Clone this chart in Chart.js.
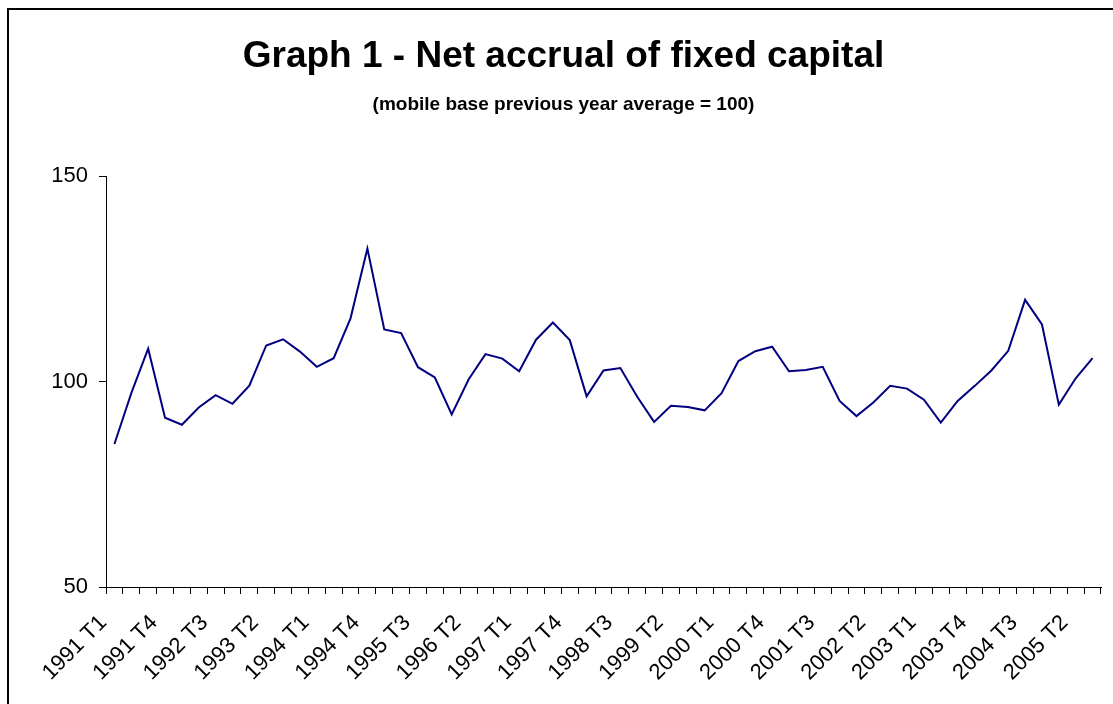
<!DOCTYPE html>
<html>
<head>
<meta charset="utf-8">
<script src="https://cdn.jsdelivr.net/npm/chart.js@4"></script>
<style>
    body { margin: 0; background: #fff; }
    #wrap { position: relative; width: 1113px; height: 704px; overflow: hidden; }
    #frame {
        position: absolute; left: 7px; top: 8px; width: 1120px; height: 720px;
        border-top: 2px solid #000; border-left: 2px solid #000;
    }
    canvas { position: absolute; left: 0; top: 0; }
</style>
</head>
<body>
<div id="wrap">
    <div id="frame"></div>
    <canvas id="capitalChart" width="1113" height="704"></canvas>
</div>
<script>
// Trimestres 1991 T1 .. 2005 T3
var quarters = [
    "1991 T1", "1991 T2", "1991 T3", "1991 T4",
    "1992 T1", "1992 T2", "1992 T3", "1992 T4",
    "1993 T1", "1993 T2", "1993 T3", "1993 T4",
    "1994 T1", "1994 T2", "1994 T3", "1994 T4",
    "1995 T1", "1995 T2", "1995 T3", "1995 T4",
    "1996 T1", "1996 T2", "1996 T3", "1996 T4",
    "1997 T1", "1997 T2", "1997 T3", "1997 T4",
    "1998 T1", "1998 T2", "1998 T3", "1998 T4",
    "1999 T1", "1999 T2", "1999 T3", "1999 T4",
    "2000 T1", "2000 T2", "2000 T3", "2000 T4",
    "2001 T1", "2001 T2", "2001 T3", "2001 T4",
    "2002 T1", "2002 T2", "2002 T3", "2002 T4",
    "2003 T1", "2003 T2", "2003 T3", "2003 T4",
    "2004 T1", "2004 T2", "2004 T3", "2004 T4",
    "2005 T1", "2005 T2", "2005 T3"
];

// Net accrual of fixed capital (previous year average = 100)
var accrual = [
    84.8, 97.2, 108.0, 91.2, 89.5, 93.7, 96.7, 94.6, 99.0, 108.8,
    110.3, 107.3, 103.6, 105.7, 115.4, 132.4, 112.7, 111.8, 103.5, 101.0,
    92.0, 100.5, 106.7, 105.6, 102.5, 110.2, 114.4, 110.1, 96.4, 102.7,
    103.3, 96.3, 90.2, 94.1, 93.8, 93.0, 97.2, 105.0, 107.4, 108.5,
    102.5, 102.8, 103.6, 95.3, 91.6, 94.9, 99.0, 98.3, 95.6, 90.0,
    95.3, 98.9, 102.7, 107.5, 119.9, 113.9, 94.4, 100.8, 105.7
];

var yTicks = [50, 100, 150];

var ctx = document.getElementById("capitalChart").getContext("2d");
new Chart(ctx, {
    type: "line",
    data: {
        labels: quarters,
        datasets: [
            {
                label: "Net accrual",
                data: accrual,
                borderColor: "#000080",
                borderWidth: 2,
                pointRadius: 0,
                fill: false,
                tension: 0,
            },
        ],
    },
    options: {
        responsive: false,
        animation: false,
        layout: { padding: { left: 26, right: 12, top: 0, bottom: 0 } },
        plugins: {
            legend: { display: false },
            tooltip: { enabled: false },
            title: {
                display: true,
                text: "Graph 1 - Net accrual of fixed capital",
                color: "#000",
                font: { family: "Liberation Sans, Arial", size: 37, weight: "bold" },
                padding: { top: 35, bottom: 0 },
            },
            subtitle: {
                display: true,
                text: "(mobile base previous year average = 100)",
                color: "#000",
                font: { family: "Liberation Sans, Arial", size: 19, weight: "bold" },
                padding: { top: 14, bottom: 60 },
            },
        },
        scales: {
            x: {
                offset: true,
                grid: {
                    offset: true,
                    drawOnChartArea: false,
                    drawTicks: true,
                    tickLength: 7,
                    color: "#000",
                },
                border: { display: true, color: "#000", width: 1 },
                ticks: {
                    autoSkip: false,
                    maxRotation: 45,
                    minRotation: 45,
                    padding: 16,
                    labelOffset: -11,
                    color: "#000",
                    font: { family: "Liberation Sans, Arial", size: 22 },
                    callback: function (value, index) {
                        return index % 3 === 0 ? quarters[index] : "";
                    },
                },
                afterFit: function (scale) {
                    scale.height = 117;
                    scale.paddingLeft = 0;
                    scale.paddingRight = 0;
                },
            },
            y: {
                min: 50,
                max: 150,
                grid: {
                    drawOnChartArea: false,
                    drawTicks: true,
                    tickLength: 7,
                    color: "#000",
                },
                border: { display: true, color: "#000", width: 1 },
                afterBuildTicks: function (scale) {
                    scale.ticks = yTicks.map(function (v) {
                        return { value: v };
                    });
                },
                ticks: {
                    padding: 11,
                    color: "#000",
                    font: { family: "Liberation Sans, Arial", size: 22 },
                },
                afterFit: function (scale) {
                    scale.width = 80;
                },
            },
        },
    },
});
</script>
</body>
</html>
